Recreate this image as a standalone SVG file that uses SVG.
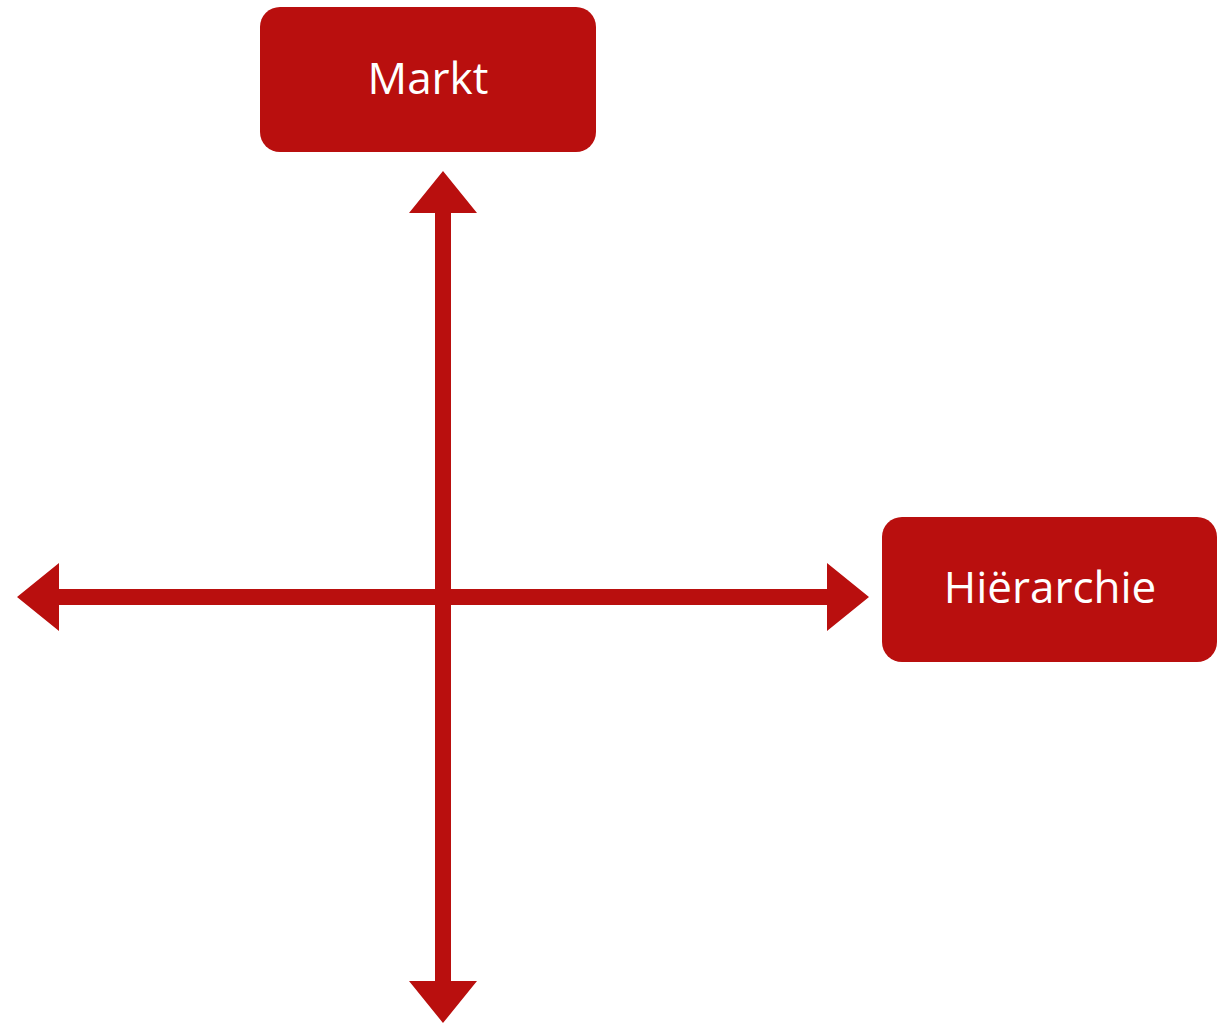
<svg xmlns="http://www.w3.org/2000/svg" width="1217" height="1025" viewBox="0 0 1217 1025">
<style>
.box{fill:#B90F0E}
.lbl{fill:#FFFFFF;font-family:"Open Sans","Noto Sans",sans-serif;font-size:44px;text-anchor:middle}
.arr{fill:#B90F0E}
</style>
<rect width="1217" height="1025" fill="#FFFFFF"/>
<g id="connectors">
<polygon class="arr" points="443,171 477,213 451,213 451,981 477,981 443,1023 409,981 435,981 435,213 409,213"/>
<polygon class="arr" points="17,597 59,563 59,589 827,589 827,563 869,597 827,631 827,605 59,605 59,631"/>
</g>
<g id="markt">
<rect class="box" x="260" y="7" width="336" height="145" rx="20" ry="20"/>
<text class="lbl" x="428" y="94">Markt</text>
</g>
<g id="hierarchie">
<rect class="box" x="882" y="517" width="335" height="145" rx="20" ry="20"/>
<text class="lbl" x="1050" y="603">Hiërarchie</text>
</g>
</svg>
